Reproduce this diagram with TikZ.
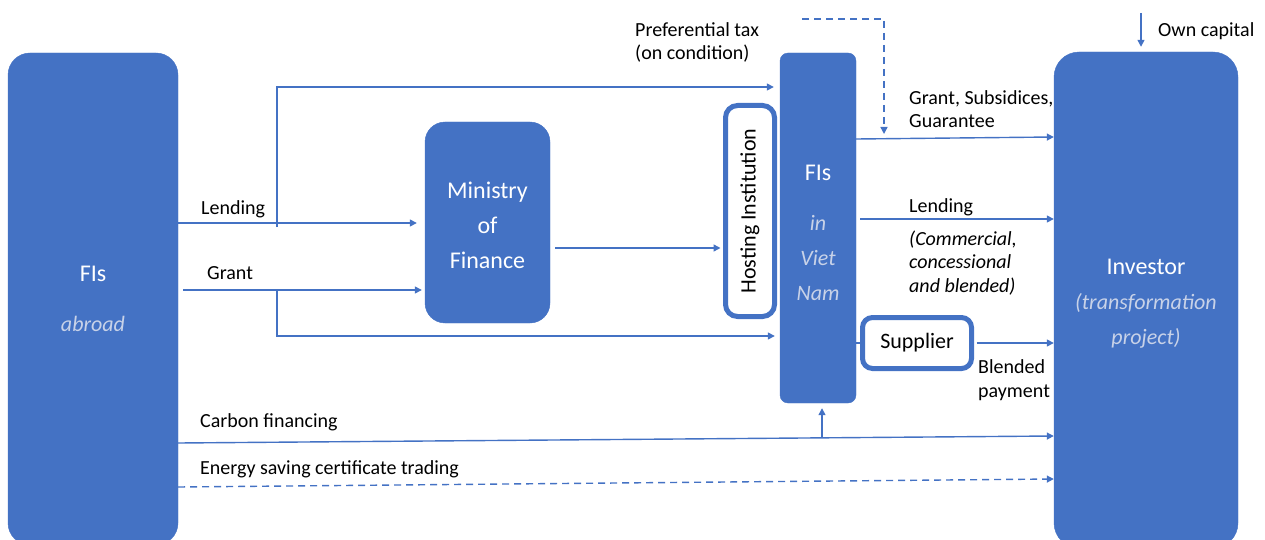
\documentclass[tikz,border=0pt]{standalone}
\usepackage{fontspec}
\setmainfont{Carlito}
\usetikzlibrary{arrows.meta}
\definecolor{boxblue}{RGB}{68,114,196}
\definecolor{paleblue}{RGB}{200,210,232}
\newcommand{\subtxt}[1]{{\fontsize{22}{35}\selectfont\itshape\color{paleblue}#1}}

\begin{document}
\begin{tikzpicture}[x=1pt,y=-1pt,
    bluebox/.style={fill=boxblue,draw=boxblue,text=white,align=center,inner sep=0pt,
      font=\fontsize{24}{35}\selectfont},
    framebox/.style={draw=boxblue,line width=5pt,fill=white,inner sep=0pt,
      font=\fontsize{22}{26}\selectfont},
    flow/.style={draw=boxblue,line width=1.4pt,-{Triangle[length=7pt,width=7pt]}},
    dashflow/.style={flow,dash pattern=on 7pt off 5pt},
    lbl/.style={anchor=base west,align=left,inner sep=0pt,font=\fontsize{20}{23.5}\selectfont}]
  \useasboundingbox (0,0) rectangle (1265,540);

  % boxes
  \node[bluebox,minimum width=170pt,minimum height=492pt,rounded corners=22pt] (abroad) at (93,299)
    {FIs\\[15pt]\subtxt{abroad}};
  \node[bluebox,minimum width=125pt,minimum height=201pt,rounded corners=20pt] (mof) at (487.5,222.5)
    {\rule{0pt}{23pt}Ministry\\of\\Finance};
  \node[bluebox,minimum width=76pt,minimum height=350pt,rounded corners=8pt] (fivn) at (818,228)
    {\rule{0pt}{25pt}FIs\\[15pt]\subtxt{in}\\\subtxt{Viet}\\\subtxt{Nam}};
  \node[bluebox,minimum width=184pt,minimum height=496pt,rounded corners=25pt] (inv) at (1146,300)
    {\rule{0pt}{23pt}Investor\\\subtxt{(transformation}\\\subtxt{project)}};
  \node[framebox,minimum width=211pt,minimum height=49pt,rounded corners=12pt,rotate=90] (host) at (750,211)
    {Hosting Institution};
  \node[framebox,minimum width=109pt,minimum height=51pt,rounded corners=10pt] (sup) at (917,343)
    {Supplier};

  % split points, bends and free ends
  \coordinate (lendsplit) at (277,223);
  \coordinate (lendbend) at (277,87);
  \coordinate (grantsplit) at (277,290);
  \coordinate (grantbend) at (277,336);
  \coordinate (taxstart) at (802,19);
  \coordinate (taxend) at (884,134);
  \coordinate (upfoot) at (822,437);
  \coordinate (owntop) at (1141,13);

  % flows
  \draw[flow,shorten >=8pt] (abroad.east |- lendsplit) -- (mof.west |- lendsplit);
  \draw[flow,shorten >=6pt] ([yshift=-4pt]lendsplit) -- (lendbend) -- (fivn.west |- lendbend);
  \draw[flow,shorten >=3pt] ([xshift=5pt]abroad.east |- grantsplit) -- (mof.west |- grantsplit);
  \draw[flow,shorten >=5pt] (grantsplit) -- (grantbend) -- (fivn.west |- grantbend);
  \draw[flow,shorten <=5pt,shorten >=2.5pt] (mof.east |- 0,248) -- (host.north |- 0,248);
  \draw[dashflow] (taxstart) -| (taxend);
  \draw[flow] (fivn.east |- 0,139) -- (inv.west |- 0,137);
  \draw[flow,shorten <=4pt] (fivn.east |- 0,219) -- (inv.west |- 0,219);
  \draw[draw=boxblue,line width=1.4pt] (fivn.east |- sup) -- (sup.west);
  \draw[flow,shorten <=2.5pt] (sup.east) -- (inv.west |- sup);
  \draw[flow] (abroad.east |- 0,443) -- (inv.west |- 0,436);
  \draw[flow,shorten >=5pt] (upfoot) -- (upfoot |- fivn.south);
  \draw[dashflow] (abroad.east |- 0,487) -- (inv.west |- 0,479);
  \draw[flow,shorten >=5pt] (owntop) -- (owntop |- inv.north);

  % labels
  \node[lbl] (lendlbl) at (201,214) {Lending};
  \node[lbl] (grantlbl) at (207,279) {Grant};
  \node[lbl] (taxlbl) at (635,60) {Preferential tax\\(on condition)};
  \node[lbl] (gsglbl) at (909,128) {Grant, Subsidices,\\Guarantee};
  \node[lbl] (lendrlbl) at (909,212) {Lending};
  \node[lbl,font=\fontsize{20}{23.5}\selectfont\itshape] (typelbl) at (909,292)
    {(Commercial,\\concessional\\and blended)};
  \node[lbl] (paylbl) at (978,397) {Blended\\payment};
  \node[lbl] (carbonlbl) at (200,427) {Carbon financing};
  \node[lbl] (esclbl) at (200,474) {Energy saving certificate trading};
  \node[lbl] (ownlbl) at (1158,37) {Own capital};
\end{tikzpicture}
\end{document}
